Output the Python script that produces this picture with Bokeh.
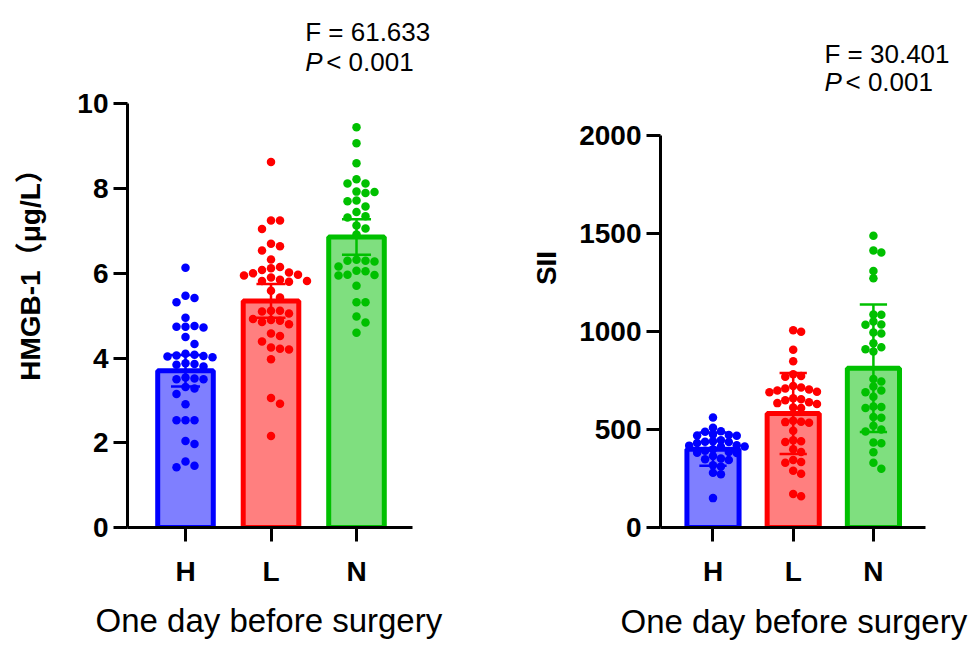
from bokeh.plotting import figure
from bokeh.models import FixedTicker, Label, Title
from bokeh.layouts import row
from bokeh.embed import file_html
from bokeh.resources import INLINE
import numpy as np

# ---------------- data ----------------
groups = ["H", "L", "N"]
colors = ["#0000ff", "#ff0000", "#00c000"]

hmgb_H = [6.13, 5.47, 5.42, 5.32, 4.95, 4.74, 4.76, 4.72, 4.74, 4.50, 4.33, 4.02, 4.05,
          4.08, 4.04, 4.10, 4.06, 3.88, 3.84, 3.80, 3.86, 3.52, 3.50, 3.54, 3.50, 3.32,
          3.28, 3.15, 2.91, 2.53, 2.53, 2.53, 2.04, 1.97, 1.56, 1.46, 1.42]
hmgb_L = [8.63, 7.25, 7.25, 7.05, 6.70, 6.64, 6.54, 6.33, 6.12, 6.08, 6.15, 6.00, 5.95,
          5.90, 5.97, 6.02, 5.85, 5.80, 5.82, 5.82, 5.59, 5.43, 5.10, 5.12, 5.05, 5.12,
          4.90, 4.85, 4.92, 4.88, 4.80, 4.58, 4.52, 4.39, 4.25, 4.22, 4.20, 3.97, 3.06,
          2.92, 2.16]
hmgb_N = [9.45, 9.07, 8.60, 8.22, 8.12, 8.12, 7.92, 7.93, 7.90, 7.72, 7.70, 7.58, 7.45,
          7.35, 7.32, 7.13, 7.06, 6.92, 6.30, 6.32, 6.28, 6.30, 6.16, 6.06, 5.96, 5.97,
          5.95, 6.05, 5.71, 5.32, 5.32, 4.98, 4.84, 4.60]
hmgb_mean = [3.70, 5.35, 6.86]
hmgb_err = [0.37, 0.40, 0.42]

sii_H = [562, 509, 492, 489, 475, 470, 468, 472, 445, 440, 438, 436, 432, 420, 418, 414,
         412, 400, 392, 386, 382, 380, 365, 352, 348, 345, 318, 312, 280, 272, 150]
sii_L = [1007, 999, 908, 849, 783, 773, 770, 722, 715, 710, 705, 700, 693, 690, 660, 655,
         650, 640, 635, 630, 613, 610, 545, 540, 538, 535, 494, 445, 440, 436, 400, 385,
         345, 335, 330, 290, 274, 171, 160]
sii_N = [1490, 1414, 1404, 1310, 1273, 1087, 1086, 1052, 1036, 1035, 996, 990, 941, 920,
         910, 898, 758, 745, 720, 700, 690, 668, 618, 610, 615, 564, 560, 520, 500, 490,
         434, 430, 384, 330, 300]
sii_mean = [400, 582, 813]
sii_err = [85, 207, 326]

left_ticks = [0, 2, 4, 6, 8, 10]
right_ticks = [0, 500, 1000, 1500, 2000]
xlabel = "One day before surgery"

# ---------------- layout constants (pixels) ----------------
FONT = "Liberation Sans"
H = 650
TOP = 8
FRAME_BOTTOM = 530
BOTTOM = H - FRAME_BOTTOM


def swarm(vals, px_per_x, px_per_y, d=9.0, mind=0.97):
    vals = np.asarray(vals, dtype=float)
    order = np.argsort(-vals, kind="stable")
    placed = []
    offs = np.zeros(len(vals))
    cands = [0.0]
    for m in range(1, 15):
        cands += [m * d, -m * d]
    for i in order:
        y = vals[i] * px_per_y
        for c in cands:
            if all((c - px) ** 2 + (y - py) ** 2 >= (d * mind) ** 2 for px, py in placed):
                offs[i] = c
                placed.append((c, y))
                break
    return offs / px_per_x


def make(width, left, right, axis_len_px, first_px, spacing_px, top_px, ymax, ticks,
         means, errs, series, ylabel, s1, title_off, title_standoff, ylab_standoff,
         d, mind):
    pxy = (FRAME_BOTTOM - top_px) / ymax
    yr = (0, ymax + (top_px - TOP) / pxy)
    fw = width - left - right
    x0 = -first_px / spacing_px
    xr = (x0, x0 + fw / spacing_px)
    p = figure(width=width, height=H, x_range=xr, y_range=yr,
               output_backend="svg", toolbar_location=None,
               min_border_left=left, min_border_right=right,
               min_border_top=TOP, min_border_bottom=BOTTOM)
    p.outline_line_color = None
    p.grid.visible = False
    xs = list(range(len(groups)))
    p.vbar(x=xs, top=means, width=0.65, bottom=0, fill_color=colors, fill_alpha=0.5,
           line_color=colors, line_width=5)
    for i, vals in enumerate(series):
        off = swarm(vals, spacing_px, pxy, d, mind)
        p.scatter(x=i + off, y=vals, size=8.5, color=colors[i], line_width=0)
    lo = [m - e for m, e in zip(means, errs)]
    hi = [m + e for m, e in zip(means, errs)]
    p.segment(x0=xs, x1=xs, y0=lo, y1=hi, line_color=colors, line_width=2.5)
    for yy in (lo, hi):
        p.segment(x0=[x - 0.17 for x in xs], x1=[x + 0.17 for x in xs], y0=yy, y1=yy,
                  line_color=colors, line_width=2.5)

    for ax in (p.xaxis[0], p.yaxis[0]):
        ax.axis_line_width = 3
        ax.major_tick_line_width = 3
        ax.major_tick_out = 14
        ax.major_tick_in = 0
        ax.minor_tick_line_color = None
        ax.major_label_text_font = FONT
        ax.major_label_text_font_style = "bold"
        ax.major_label_text_font_size = "28px"
        ax.major_label_text_color = "black"
        ax.axis_label_text_color = "black"
        ax.axis_label_text_font = FONT

    p.xaxis.bounds = (x0, x0 + axis_len_px / spacing_px)
    p.xaxis.ticker = FixedTicker(ticks=xs)
    p.xaxis.major_label_overrides = {i: g for i, g in enumerate(groups)}
    p.xaxis.major_label_standoff = s1

    p.add_layout(Title(text=xlabel, align="left", offset=title_off,
                       standoff=title_standoff, text_font=FONT,
                       text_font_size="33px", text_font_style="normal",
                       text_color="black"), "below")

    p.yaxis.bounds = (0, ymax)
    p.yaxis.ticker = FixedTicker(ticks=ticks)
    p.yaxis.major_label_standoff = 5
    p.yaxis.axis_label = ylabel
    p.yaxis.axis_label_text_font = FONT + ", Noto Sans CJK SC"
    p.yaxis.axis_label_text_font_style = "bold"
    p.yaxis.axis_label_text_font_size = "28px"
    p.yaxis.axis_label_standoff = ylab_standoff
    return p


p1 = make(528, 127, 58, 285, 58, 85.5, 104, 10, left_ticks, hmgb_mean, hmgb_err,
          [hmgb_H, hmgb_L, hmgb_N], "HMGB-1（μg/L）", 14, -32, 20, 28, 9.0, 0.97)
p2 = make(440, 129, 2, 268, 53, 81, 136, 2000, right_ticks, sii_mean, sii_err,
          [sii_H, sii_L, sii_N], "SII", 14, -40, 22, 14, 8.0, 0.8)


def stats(p, x, yF, yP, ftext):
    p.add_layout(Label(x=x, y=yF, text=ftext, text_font=FONT, text_font_size="26px",
                       text_baseline="middle", text_color="black"))
    p.add_layout(Label(x=x, y=yP, text="P", text_font=FONT, text_font_size="26px",
                       text_font_style="italic", text_baseline="middle", text_color="black"))
    p.add_layout(Label(x=x, y=yP, x_offset=21, text="< 0.001", text_font=FONT,
                       text_font_size="26px", text_baseline="middle", text_color="black"))


stats(p1, 1.40, 11.71, 10.99, "F = 61.633")
stats(p2, 1.39, 2419, 2274, "F = 30.401")

layout = row(p1, p2)
open("out.html", "w").write(file_html(layout, INLINE))
